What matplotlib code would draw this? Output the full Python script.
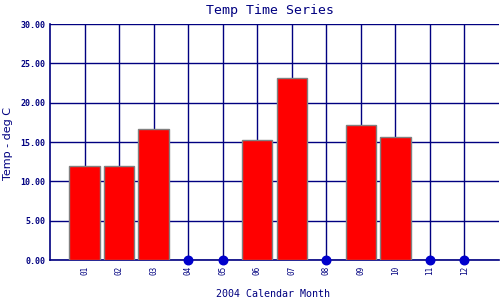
import matplotlib
matplotlib.use("Agg")
import matplotlib.pyplot as plt

months = ["01", "02", "03", "04", "05", "06", "07", "08", "09", "10", "11", "12"]
temps = [11.9, 11.9, 16.7, 0.0, 0.0, 15.2, 23.1, 0.0, 17.1, 15.6, 0.0, 0.0]
y_ticks = [0, 5, 10, 15, 20, 25, 30]

navy = "#000080"
mono = "DejaVu Sans Mono"

fig = plt.figure(figsize=(5, 3), dpi=100)
ax = fig.add_axes([0.1, 0.1333, 0.898, 0.7867])

x = list(range(1, len(months) + 1))
ax.set_axisbelow(True)
ax.grid(True, color=navy, linewidth=1.0)

bar_x = [i for i, t in zip(x, temps) if t > 0]
bar_h = [t for t in temps if t > 0]
ax.bar(bar_x, bar_h, width=0.88, color="red", edgecolor="#808080",
       linewidth=1.0, zorder=3)

# zero readings are drawn as dots on the axis
dot_x = [i for i, t in zip(x, temps) if t == 0]
dot_y = [t for t in temps if t == 0]
ax.scatter(dot_x, dot_y, s=38, color="#0000cc", zorder=4, clip_on=False)

ax.set_xlim(0, 13)
ax.set_ylim(0, 30)
ax.set_xticks(x)
ax.set_xticklabels(months, rotation=90, fontsize=5.5, family=mono,
                   color=navy)
ax.set_yticks(y_ticks)
ax.set_yticklabels([f"{v:.2f}" for v in y_ticks], fontsize=6,
                   family=mono, color=navy, fontweight="bold")
ax.tick_params(axis="y", length=0, pad=3.5)
ax.tick_params(axis="x", length=0, pad=4.3)

for side in ["top", "right"]:
    ax.spines[side].set_visible(False)
for side in ["left", "bottom"]:
    ax.spines[side].set_color(navy)
    ax.spines[side].set_linewidth(1.2)

fig.text(0.539, 0.965, "Temp Time Series", ha="center", va="center",
         fontsize=9.5, family=mono, color=navy)
fig.text(0.547, 0.02, "2004 Calendar Month", ha="center", va="center",
         fontsize=7.2, family=mono, color=navy)
fig.text(0.016, 0.523, "Temp - deg C", ha="center", va="center",
         rotation=90, fontsize=8, color=navy)

fig.savefig("out.png", dpi=100)
